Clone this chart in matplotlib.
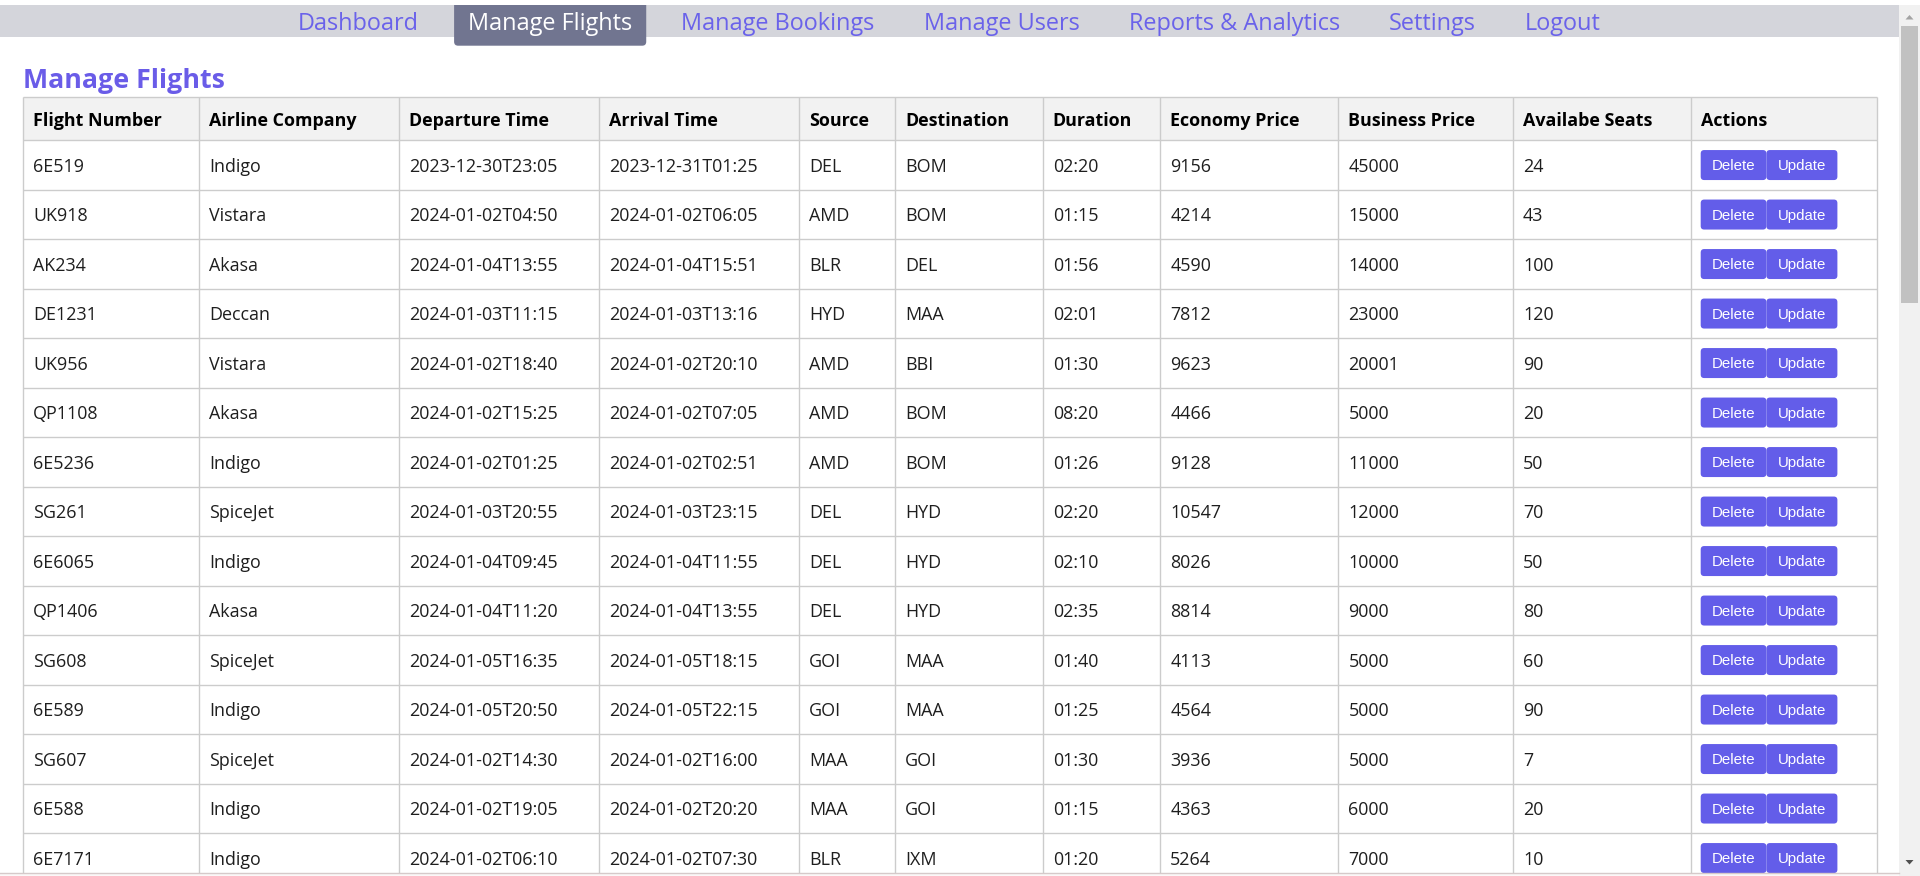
"""
Screenshot-style rendering of the admin "Manage Flights" page.

The page is drawn on a single axes in pixel coordinates (y grows downward),
so layout numbers below can be read straight off the reference screenshot.
"""

import matplotlib.pyplot as plt
from matplotlib.patches import Rectangle, FancyBboxPatch, Polygon

# ---- data -----------------------------------------------------------------
nav_items = ["Dashboard", "Manage Flights", "Manage Bookings", "Manage Users",
             "Reports & Analytics", "Settings", "Logout"]
active_nav = "Manage Flights"
page_title = "Manage Flights"

headers = ["Flight Number", "Airline Company", "Departure Time", "Arrival Time",
           "Source", "Destination", "Duration", "Economy Price",
           "Business Price", "Availabe Seats", "Actions"]

flight_numbers = ["6E519", "UK918", "AK234", "DE1231", "UK956", "QP1108",
                  "6E5236", "SG261", "6E6065", "QP1406", "SG608", "6E589",
                  "SG607", "6E588", "6E7171"]
airlines = ["Indigo", "Vistara", "Akasa", "Deccan", "Vistara", "Akasa",
            "Indigo", "SpiceJet", "Indigo", "Akasa", "SpiceJet", "Indigo",
            "SpiceJet", "Indigo", "Indigo"]
departures = ["2023-12-30T23:05", "2024-01-02T04:50", "2024-01-04T13:55",
              "2024-01-03T11:15", "2024-01-02T18:40", "2024-01-02T15:25",
              "2024-01-02T01:25", "2024-01-03T20:55", "2024-01-04T09:45",
              "2024-01-04T11:20", "2024-01-05T16:35", "2024-01-05T20:50",
              "2024-01-02T14:30", "2024-01-02T19:05", "2024-01-02T06:10"]
arrivals = ["2023-12-31T01:25", "2024-01-02T06:05", "2024-01-04T15:51",
            "2024-01-03T13:16", "2024-01-02T20:10", "2024-01-02T07:05",
            "2024-01-02T02:51", "2024-01-03T23:15", "2024-01-04T11:55",
            "2024-01-04T13:55", "2024-01-05T18:15", "2024-01-05T22:15",
            "2024-01-02T16:00", "2024-01-02T20:20", "2024-01-02T07:30"]
sources = ["DEL", "AMD", "BLR", "HYD", "AMD", "AMD", "AMD", "DEL", "DEL",
           "DEL", "GOI", "GOI", "MAA", "MAA", "BLR"]
destinations = ["BOM", "BOM", "DEL", "MAA", "BBI", "BOM", "BOM", "HYD", "HYD",
                "HYD", "MAA", "MAA", "GOI", "GOI", "IXM"]
durations = ["02:20", "01:15", "01:56", "02:01", "01:30", "08:20", "01:26",
             "02:20", "02:10", "02:35", "01:40", "01:25", "01:30", "01:15",
             "01:20"]
economy_prices = [9156, 4214, 4590, 7812, 9623, 4466, 9128, 10547, 8026, 8814,
                  4113, 4564, 3936, 4363, 5264]
business_prices = [45000, 15000, 14000, 23000, 20001, 5000, 11000, 12000,
                   10000, 9000, 5000, 5000, 5000, 6000, 7000]
seats = [24, 43, 100, 120, 90, 20, 50, 70, 50, 80, 60, 90, 7, 20, 10]
action_buttons = ["Delete", "Update"]

# ---- layout / style ---------------------------------------------------------
W, H = 1920, 876
FONT = "Open Sans"
BTN_FONT = "Liberation Sans"

NAV_BG = "#d4d5db"
NAV_ACTIVE_BG = "#717590"
NAV_TEXT = "#6a62ea"
TITLE_COLOR = "#6a5ce8"
BTN_COLOR = "#635de9"
GRID = "#cccccc"
HEAD_BG = "#f2f2f2"
TEXT = "#1e1e1e"

col_edges = [23.3, 199.0, 399.2, 598.8, 799.0, 895.0, 1042.7, 1160.2,
             1338.4, 1512.9, 1690.7, 1876.7]
head_top, head_bottom = 97.3, 140.3
row_h = 49.5
cell_pad = 10
nav_gap = 49.2
tab_pad = 14
scroll_x = 1899


def main() -> None:
    fig = plt.figure(figsize=(W / 100, H / 100), dpi=100)
    ax = fig.add_axes([0, 0, 1, 1])
    ax.set_xlim(0, W)
    ax.set_ylim(H, 0)
    ax.axis("off")
    fig.patch.set_facecolor("white")

    # nav bar
    ax.add_patch(Rectangle((0, 5), scroll_x, 32, color=NAV_BG, lw=0))
    fig.canvas.draw()
    renderer = fig.canvas.get_renderer()
    inv = ax.transData.inverted()

    labels = []
    widths = []
    for item in nav_items:
        t = ax.text(0, 30.5, item, fontsize=16.9, family=FONT,
                    va="baseline", ha="left", zorder=3,
                    color="white" if item == active_nav else NAV_TEXT)
        bb = t.get_window_extent(renderer)
        x0 = inv.transform((bb.x0, 0))[0]
        x1 = inv.transform((bb.x1, 0))[0]
        labels.append(t)
        widths.append(x1 - x0)
    total = sum(widths) + nav_gap * (len(widths) - 1)
    x = scroll_x / 2 - total / 2
    for item, t, w in zip(nav_items, labels, widths):
        t.set_x(x)
        if item == active_nav:
            ax.add_patch(FancyBboxPatch(
                (x - tab_pad + 4, 1), w + 2 * tab_pad - 8, 40.7,
                boxstyle="round,pad=4,rounding_size=4",
                color=NAV_ACTIVE_BG, lw=0, zorder=2))
        x += w + nav_gap
    # white strip above the bar hides the upper rounded corners of the tab
    ax.add_patch(Rectangle((0, 0), W, 5, color="white", lw=0, zorder=2.5))

    # page title
    ax.text(23, 88.3, page_title, fontsize=19.3, family=FONT,
            fontweight="bold", color=TITLE_COLOR, va="baseline")

    # table
    left, right = col_edges[0], col_edges[-1]
    ax.add_patch(Rectangle((left, head_top), right - left,
                           head_bottom - head_top, color=HEAD_BG, lw=0))
    for c, name in enumerate(headers):
        ax.text(col_edges[c] + cell_pad, (head_top + head_bottom) / 2 + 7,
                name, fontsize=12.9, family=FONT, fontweight="bold",
                color="black", va="baseline")

    columns = [flight_numbers, airlines, departures, arrivals, sources,
               destinations, durations, economy_prices, business_prices, seats]
    n_rows = len(flight_numbers)
    for r in range(n_rows):
        top = head_bottom + r * row_h
        mid = top + row_h / 2
        for c, col in enumerate(columns):
            ax.text(col_edges[c] + cell_pad, mid + 6.7, str(col[r]),
                    fontsize=12.85, family=FONT, color=TEXT, va="baseline")
        bx = col_edges[-2] + cell_pad
        for label, bw in zip(action_buttons, (65.7, 71.0)):
            ax.add_patch(FancyBboxPatch(
                (bx + 1.5, mid - 15 + 1.5), bw - 3, 27,
                boxstyle="round,pad=1.5,rounding_size=3.5",
                color=BTN_COLOR, lw=0, zorder=2))
            ax.text(bx + bw / 2, mid + 5, label, fontsize=10.8,
                    family=BTN_FONT, color="white", ha="center",
                    va="baseline", zorder=3)
            bx += bw

    # grid lines
    ys = [head_top, head_bottom] + [head_bottom + (r + 1) * row_h
                                    for r in range(n_rows)]
    for y in ys:
        if y < H:
            ax.plot([left, right], [y, y], color=GRID, lw=1.0, zorder=1.5,
                    solid_capstyle="butt")
    for xe in col_edges:
        ax.plot([xe, xe], [head_top, H], color=GRID, lw=1.0, zorder=1.5,
                solid_capstyle="butt")

    # viewport bottom edge
    ax.add_patch(Rectangle((0, 873), scroll_x, H - 873, color="#fbf8f8",
                           lw=0, zorder=4))
    ax.plot([0, scroll_x], [873.3, 873.3], color="#d6caca", lw=1.0, zorder=5)

    # scrollbar
    ax.add_patch(Rectangle((scroll_x, 5), W - scroll_x, H - 5,
                           color="#f1f1f1", lw=0, zorder=4))
    ax.add_patch(Rectangle((1901, 26), 17, 277, color="#c1c1c1", lw=0,
                           zorder=5))
    cx = (scroll_x + W) / 2
    ax.add_patch(Polygon([[cx - 4, 19.5], [cx + 4, 19.5], [cx, 15]],
                         color="#a3a3a3", lw=0, zorder=5))
    ax.add_patch(Polygon([[cx - 4, 860], [cx + 4, 860], [cx, 864.5]],
                         color="#505050", lw=0, zorder=5))

    fig.savefig("out.png", dpi=100, facecolor="white")


if __name__ == "__main__":
    main()
